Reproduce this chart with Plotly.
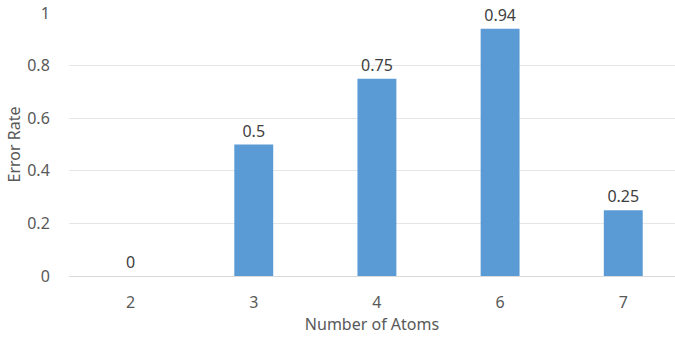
import plotly.graph_objects as go

categories = ["2", "3", "4", "6", "7"]
error_rate = [0, 0.5, 0.75, 0.94, 0.25]
y_ticks = [0, 0.2, 0.4, 0.6, 0.8, 1]
y_tick_labels = ["0", "0.2", "0.4", "0.6", "0.8", "1"]

font_family = "Noto Sans"
fig = go.Figure()
fig.add_trace(go.Bar(
    x=categories, y=error_rate,
    marker=dict(color="#5B9BD5", line=dict(width=0)),
    text=[str(v) for v in error_rate], textposition="outside",
    textfont=dict(family=font_family, size=16, color="#404040"),
    constraintext="none", cliponaxis=False,
))
fig.update_layout(
    width=675, height=337,
    margin=dict(l=69, r=0, t=13, b=61),
    paper_bgcolor="white", plot_bgcolor="white",
    bargap=0.684, showlegend=False,
    font=dict(family=font_family, size=16, color="#595959"),
)
fig.update_xaxes(
    type="category", range=[-0.5, 4.42],
    showgrid=False, showline=True, linecolor="#D9D9D9", linewidth=1,
    ticks="outside", ticklen=12, tickcolor="rgba(0,0,0,0)",
    tickfont=dict(size=16, color="#595959"),
    title=dict(text="Number of Atoms", font=dict(size=16, color="#595959"), standoff=6),
)
fig.update_yaxes(
    range=[0, 1.0], tickvals=y_ticks, ticktext=y_tick_labels,
    showgrid=True, gridcolor="#E6E6E6", gridwidth=1, zeroline=False,
    showline=False, ticks="outside", ticklen=15, tickcolor="rgba(0,0,0,0)",
    tickfont=dict(size=16, color="#595959"),
    title=dict(text="Error Rate", font=dict(size=16, color="#595959"), standoff=2),
)
fig.write_html("out.html")
